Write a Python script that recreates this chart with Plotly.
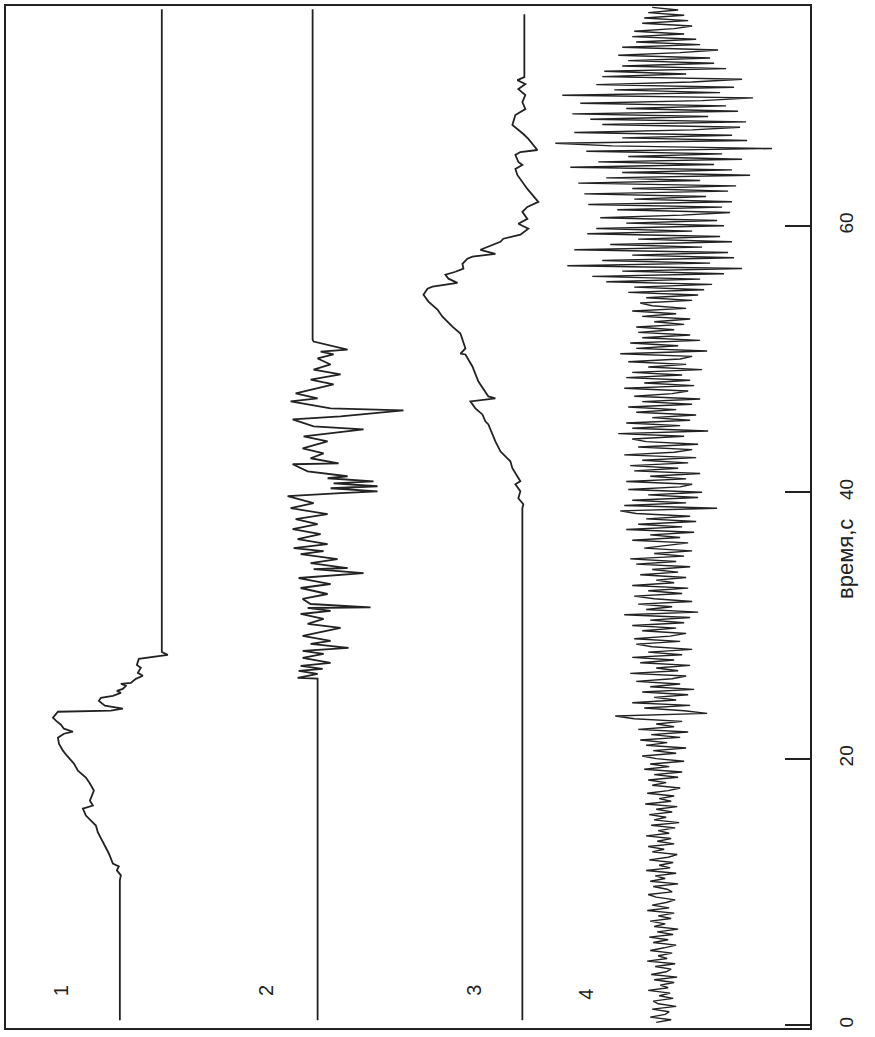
import plotly.graph_objects as go

# ---- data (time in s, signal in relative units) ----
t1 = [0.37, 10.86, 11.24, 11.61, 11.91, 12.13, 12.88, 13.48, 14.46, 14.98, 15.73, 16.25, 16.48,
      16.85, 17.23, 17.60, 18.13, 18.58, 19.10, 19.63, 20.22, 20.60, 21.12, 21.57, 21.87, 22.02,
      22.25, 22.55, 22.85, 23.07, 23.52, 23.60, 23.75, 23.97, 24.34, 24.57, 24.72, 24.94, 25.09,
      25.24, 25.47, 25.62, 25.69, 25.99, 26.22, 26.44, 26.82, 27.04, 27.49, 27.64, 27.79, 28.01, 76.25]
s1 = [119, 119, 120, 116, 118, 112, 108, 104, 97, 95, 85, 82, 92,
      89, 91, 93, 89, 85, 77, 73, 66, 62, 58, 57, 63, 72,
      63, 60, 55, 52, 57, 110, 122, 104, 98, 100, 112, 120, 116,
      122, 125, 120, 130, 135, 142, 137, 140, 136, 138, 155, 167, 161, 161]

t2 = [0.37, 26.0, 26.07, 26.37, 26.59, 26.74, 26.97, 27.19, 27.57, 27.87, 28.09, 28.31, 28.61, 28.84,
      29.21, 29.81, 30.11, 30.49, 30.86, 31.09, 31.31, 31.35, 31.61, 31.99, 32.36, 32.81, 33.11,
      33.56, 33.93, 34.23, 34.31, 34.68, 34.98, 35.36, 35.58, 35.81, 36.10, 36.48, 36.85, 37.23,
      37.60, 37.98, 38.35, 38.80, 39.18, 39.70, 39.93, 40.07, 40.30, 40.45, 40.67, 40.82, 41.05,
      41.20, 41.57, 42.10, 42.17, 42.55, 42.92, 43.30, 43.82, 44.19, 44.72, 44.94, 45.47, 45.69,
      46.14, 46.29, 46.82, 47.04, 47.42, 48.09, 48.46, 48.84, 49.21, 49.59, 50.04, 50.34, 50.56,
      50.71, 51.31, 51.46, 76.25]
s2 = [317, 317, 297, 317, 298, 322, 300, 330, 302, 323, 302, 348, 310, 330,
      302, 340, 307, 323, 300, 330, 307, 370, 310, 302, 327, 300, 330,
      298, 363, 313, 347, 310, 337, 300, 323, 293, 327, 297, 320, 292,
      317, 295, 327, 290, 313, 287, 340, 377, 330, 377, 333, 373, 327,
      347, 307, 292, 338, 310, 323, 302, 327, 303, 363, 313, 292, 340,
      403, 330, 290, 317, 295, 333, 310, 340, 313, 330, 317, 333, 320,
      347, 313, 312, 312]

t3 = [0.37, 38.80, 39.10, 39.55, 40.07, 40.60, 40.82, 41.80, 42.32, 43.07, 43.82, 45.09, 45.32,
      45.84, 46.29, 46.82, 47.04, 47.19, 48.31, 48.84, 49.44, 50.34, 50.41, 50.79, 51.31, 51.91,
      52.43, 53.18, 53.71, 54.31, 54.83, 55.28, 55.43, 55.66, 55.72, 56.03, 56.33, 56.55, 56.78,
      57.15, 57.53, 57.68, 57.90, 58.20, 58.43, 58.80, 59.03, 59.33, 59.78, 60.15, 60.52, 61.05,
      61.42, 61.80, 62.77, 63.30, 63.82, 64.27, 64.57, 64.79, 65.32, 65.54, 65.69, 66.52, 66.89,
      67.57, 68.31, 68.76, 69.29, 69.81, 70.26, 70.64, 70.94, 71.16, 75.88]
s3 = [522, 522, 523, 518, 520, 515, 520, 512, 510, 500, 495, 488, 485,
      482, 475, 470, 495, 488, 478, 475, 472, 465, 460, 465, 463, 460,
      452, 442, 437, 428, 423, 427, 432, 452, 457, 448, 445, 455, 463,
      462, 467, 472, 495, 480, 488, 500, 503, 520, 528, 518, 527, 522,
      527, 538, 527, 522, 517, 515, 522, 518, 515, 520, 537, 528, 523,
      512, 515, 525, 522, 525, 518, 525, 517, 524, 524]

# trace 4: deviations from its baseline, read every 0.2 s starting at 0.2 s
t4_start, t4_step = 0.2, 0.2
d4 = [
    -6, 9, -12, 3, 7, -10, 14, -4, -9, 11,
    -3, 8, -14, 6, -2, 12, -8, 15, -11, 4,
    9, -7, 13, -15, 5, -4, 10, -12, 2, 14,
    -9, 6, -13, 11, -5, 16, -8, 3, -12, 9,
    -4, 12, -15, 7, -10, 4, 13, -6, -14, 10,
    5, -9, 16, -12, 3, -7, 14, -16, 8, -3,
    11, -13, 6, 15, -10, 2, -14, 12, -5, 9,
    -16, 7, -4, 13, -11, 17, -8, 4, -13, 10,
    -6, 15, -17, 9, -3, 12, -15, 6, 18, -10,
    4, -14, 16, -8, 20, -18, 7, -12, 22, -6,
    -20, 14, -9, 24, -16, 5, -22, 18, -11, 26,
    -24, 12, -6, 20, -28, -47, 45, 22, -18, 28,
    -30, 14, -8, 26, -20, 32, -12, 18, -26, 10,
    24, -32, 16, -6, 28, -22, 12, -30, 20, -14,
    30, -10, -26, 18, -28, 8, 24, -20, 14, -30,
    22, -12, 28, -38, 36, -16, 10, -24, 30, -8,
    -28, 20, -14, 26, -30, 12, -6, 24, -22, 16,
    -10, 28, -26, 14, -32, 22, -8, 30, -18, 6,
    26, -30, 18, -12, 32, -36, 20, -24, 34, -16,
    28, -26, -42, 55, -38, 24, -30, 36, -14, 40,
    -34, 18, 30, -36, 24, -12, 38, -28, 16, -32,
    26, -20, 34, -38, 12, 30, -24, 36, -16, -30,
    22, -44, 46, -30, 18, -36, 28, -10, 34, -26,
    14, -34, 30, -20, 38, -28, 10, 26, -38, 32,
    -18, 28, -36, 20, -30, 40, -14, 24, -34, 18,
    30, -42, 45, -26, 16, -32, 38, -20, 28, -24,
    12, -26, 22, -8, 28, -20, 14, -30, 24, -10,
    -22, 30, -16, 36, -34, 42, -28, 50, -56, 38,
    -70, 62, -40, 80, -95, 48, -60, 72, -30, 66,
    -88, 40, -52, 70, -24, 58, -75, 30, -66, 62,
    -36, 55, -62, 20, 68, -45, 60, -74, 70, -28,
    44, -78, 66, -30, 74, -84, 38, -56, 88, -40,
    70, -92, 52, -64, 80, -34, 60, -76, 110, -50,
    -107, 85, -40, 70, -88, 30, 78, -60, 84, -72,
    46, -90, 76, -36, 64, -82, 40, 91, -100, 58,
    -48, 72, -66, 30, 80, -60, 24, -58, 64, -40,
    52, -34, 48, -44, 18, 56, -40, 38, -26, 34,
    -30, 22, -28, 12, 30, -20, 26, -18, 22, -14,
    16, -10,
]
base4 = 662

trace_labels = ["1", "2", "3", "4"]
label_x = [60, 266, 474, 586]
label_t = [2.6, 2.6, 2.6, 2.3]

tick_vals = [0, 20, 40, 60]
tick_text = ["0", "20", "40", "60"]
axis_title = "время,с"

# ---- figure ----
t4 = [round(t4_start + i * t4_step, 2) for i in range(len(d4))]
s4 = [base4 + v for v in d4]

ink = "#222222"
line_style = dict(color=ink, width=1.8)
fig = go.Figure()
for tt, ss in [(t1, s1), (t2, s2), (t3, s3)]:
    fig.add_trace(go.Scatter(x=ss, y=tt, mode="lines", line=line_style,
                             hoverinfo="skip", showlegend=False))
fig.add_trace(go.Scatter(x=s4, y=t4, mode="lines", line=dict(color=ink, width=1.4),
                         hoverinfo="skip", showlegend=False))

font_family = "Liberation Sans Narrow, Liberation Sans, Arial, sans-serif"

for lab, lx, lt in zip(trace_labels, label_x, label_t):
    fig.add_annotation(x=lx, y=lt, text=lab, showarrow=False, textangle=-90,
                       font=dict(family=font_family, size=20, color=ink))

fig.add_annotation(x=1.045, xref="paper", y=35.0, yref="y", text=axis_title,
                   showarrow=False, textangle=-90, xanchor="center", yanchor="middle",
                   font=dict(family=font_family, size=22, color=ink))

fig.update_layout(
    width=875, height=1037,
    margin=dict(l=5, r=65, t=4, b=9),
    paper_bgcolor="white", plot_bgcolor="white",
    showlegend=False,
)
fig.update_xaxes(range=[5, 810], showgrid=False, zeroline=False, showticklabels=False,
                 ticks="", showline=True, linecolor=ink, linewidth=2, mirror=True)
fig.update_yaxes(range=[-0.22, 76.5], side="right", showgrid=False, zeroline=False,
                 tickvals=tick_vals, ticktext=tick_text, ticks="inside", ticklen=25,
                 tickwidth=1.5, tickcolor=ink, tickangle=-90, ticklabelstandoff=18,
                 tickfont=dict(family=font_family, size=19, color=ink),
                 showline=True, linecolor=ink, linewidth=2, mirror=True)

fig.write_html("out.html")
